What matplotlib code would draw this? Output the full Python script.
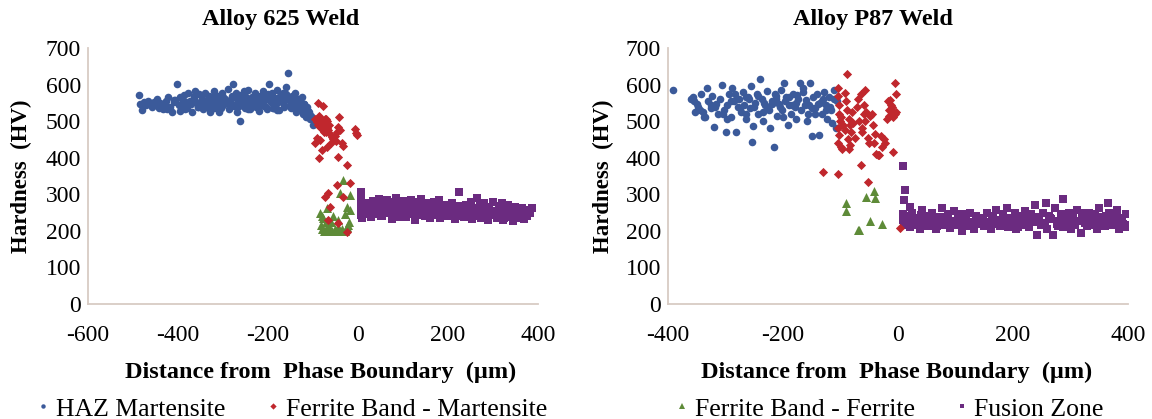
import matplotlib
matplotlib.use("Agg")
import matplotlib.pyplot as plt
from matplotlib.lines import Line2D

plt.rcParams['font.family'] = ['Liberation Serif', 'DejaVu Serif']
plt.rcParams['axes.unicode_minus'] = False

# ---------------- data ----------------
titles = ["Alloy 625 Weld", "Alloy P87 Weld"]
series_names = ["HAZ Martensite", "Ferrite Band - Martensite", "Ferrite Band - Ferrite", "Fusion Zone"]
xlims = [(-600, 400), (-400, 400)]
xticks_left = [-600, -400, -200, 0, 200, 400]
xticks_right = [-400, -200, 0, 200, 400]
yticks = [0, 100, 200, 300, 400, 500, 600, 700]

# Alloy 625 weld
haz625_x = [-487,-484,-480,-476,-471,-466,-462,-458,-454,-450,-446,-442,-438,-434,-430,-426,-422,-418,-414,-410,
            -406,-402,-398,-395,-392,-389,-386,-383,-380,-377,-374,-371,-368,-365,-362,-359,-356,-353,-350,-347,
            -344,-341,-338,-335,-332,-329,-326,-323,-320,-317,-314,-311,-308,-305,-302,-299,-296,-293,-290,-287,
            -284,-281,-278,-275,-272,-269,-266,-263,-260,-257,-254,-251,-248,-245,-242,-239,-236,-233,-230,-227,
            -224,-221,-218,-215,-212,-209,-206,-203,-200,-197,-194,-191,-188,-185,-182,-179,-176,-173,-170,-167,
            -164,-161,-158,-155,-152,-149,-146,-143,-140,-137,-134,-131,-128,-125,-122,-119,-116,-113,-110,-107,
            -104,-101,
            -440,-425,-410,-395,-385,-375,-365,-355,-345,-335,-325,-315,-305,-295,-285,-275,-265,-255,-245,-235,
            -225,-215,-205,-195,-185,-175,-165,-155,-145,-135,-125,-118,-112,-108,-130,-150,-170,-190,-210,-230,
            -250,-270,-290,-310,-330,-350,-370,-390,-140,-120,-160,-180,-200,-220,-240,-260,-280,-300,-320,-340]
haz625_y = [571,548,530,553,545,555,550,538,552,545,560,536,548,532,544,556,565,540,526,552,
            558,601,545,528,560,548,572,552,535,578,556,546,524,562,582,552,538,574,548,560,
            532,578,552,540,568,526,558,548,582,552,536,568,524,555,576,545,560,550,588,534,
            552,568,601,542,576,526,555,500,564,548,582,536,556,586,550,532,567,548,578,540,
            558,528,570,552,582,542,562,534,574,601,552,578,536,564,548,584,530,568,552,576,
            540,592,560,632,555,536,570,550,578,524,560,545,530,565,520,548,510,540,525,505,
            515,489,
            549,534,558,566,532,548,570,538,557,550,567,540,535,558,544,565,542,554,533,564,
            548,557,540,569,550,556,544,566,550,542,540,532,528,520,556,545,566,536,556,544,
            565,538,556,544,564,540,553,548,552,548,574,531,560,542,552,572,548,566,536,556]

fbm625_x = [-88,-77,-42,-95,-92,-90,-87,-85,-83,-80,-78,-76,-74,-72,-70,-68,-66,-64,-62,-86,
            -82,-79,-75,-71,-45,-40,-47,-58,-52,-55,-50,-36,-33,-7,-5,-3,-92,-96,-84,-86,
            -44,-25,-47,-18,-66,-73,-62,-66,-44,-25,-34,-60,-70,-80]
fbm625_y = [550,541,512,505,498,490,510,485,500,478,495,488,505,470,482,500,476,490,465,515,
            492,482,470,505,485,475,471,458,460,450,445,440,432,478,468,462,453,439,448,398,
            401,380,325,330,303,293,266,230,222,198,293,440,430,420]

fbf625_x = [-84,-80,-77,-72,-70,-66,-62,-80,-75,-70,-65,-58,-52,-48,-44,-40,-35,-30,-25,-20,
            -22,-25,-18,-18,-40,-34,-55,-60,-83,-28,-45]
fbf625_y = [248,240,234,225,262,215,205,205,200,200,200,200,205,200,210,200,205,200,210,225,
            215,266,257,298,303,339,240,225,215,245,230]

fz625_x = [6,6,6,6,6,6,8,
           12,15,19,22,26,29,33,36,40,43,47,50,54,57,61,64,68,71,75,78,82,85,89,92,
           96,99,103,106,110,113,117,120,124,127,131,134,138,141,145,148,152,155,159,162,
           166,169,173,176,180,183,187,190,194,197,201,204,208,211,215,218,222,225,229,232,
           236,239,243,246,250,253,257,260,264,267,271,274,278,281,285,288,292,295,299,302,
           306,309,313,316,320,323,327,330,334,337,341,344,348,351,355,358,362,365,369,372,
           376,379,383,386,
           14,24,34,44,52,60,70,80,90,100,108,116,126,136,146,156,164,174,184,194,
           204,214,224,234,244,254,264,274,284,294,304,314,324,334,344,354,364,374,225,265]
fz625_y = [305,292,280,268,255,243,235,
           262,245,275,250,268,238,282,255,270,245,288,260,240,275,255,285,248,268,232,280,258,290,245,265,
           272,250,282,238,265,255,285,245,270,230,262,278,248,288,255,240,275,258,235,268,
           250,280,242,265,285,235,258,272,248,262,262,240,275,255,232,268,250,305,245,260,
           238,272,255,245,280,232,262,250,290,240,268,235,258,275,245,230,265,250,278,242,
           255,235,268,248,275,230,260,245,270,238,252,228,265,242,258,235,250,262,232,248,
           240,258,248,262,
           252,268,245,260,240,275,250,262,238,270,255,248,265,242,258,270,245,252,262,240,
           255,248,268,240,258,245,262,238,255,248,242,260,235,250,245,238,252,242,250,255]

# Alloy P87 weld
hazp87_x = [-392,-360,-356,-353,-350,-347,-343,-340,-336,-333,-330,-326,-323,-320,-316,-313,-310,-306,-303,-300,
            -297,-294,-291,-288,-285,-282,-279,-276,-273,-270,-267,-264,-261,-258,-255,-252,-249,-246,-243,-240,
            -237,-234,-231,-228,-225,-222,-219,-216,-213,-210,-207,-204,-201,-198,-195,-192,-189,-186,-183,-180,
            -177,-174,-171,-168,-165,-162,-159,-156,-153,-150,-147,-144,-141,-138,-135,-132,-129,-126,-123,-120,
            -117,-114,-111,-108,-106,
            -345,-325,-305,-290,-275,-260,-250,-244,-235,-220,-212,-205,-196,-185,-175,-160,-150,-140,-130,-118,
            -355,-338,-318,-298,-283,-265,-254,-233,-226,-214,-200,-190,-178,-166,-155,-145,-133,-125,-112,-265]
hazp87_y = [585,560,567,526,548,540,575,526,512,590,555,535,570,485,548,520,560,600,530,470,
            545,575,510,590,555,471,540,560,525,580,545,505,565,535,595,488,550,575,520,614,
            560,500,544,583,530,480,555,428,570,515,548,585,530,603,565,490,545,520,575,540,
            505,560,605,530,580,545,500,520,603,459,565,535,575,462,550,520,580,545,505,565,
            530,495,585,480,555,
            530,545,520,555,535,560,540,570,525,548,560,538,555,545,572,558,535,548,560,540,
            555,510,540,505,575,520,444,550,535,575,510,565,550,590,545,520,555,530,560,565]

fbmp87_x = [-89,-5,-3,-14,-10,-6,-8,-12,-105,-104,-102,-103,-101,-105,-103,-104,-100,-92,-90,-88,
            -85,-84,-82,-87,-80,-83,-86,-70,-65,-60,-55,-58,-62,-52,-50,-57,-63,-48,-45,-40,
            -42,-22,-18,-15,-20,-16,-35,-33,-9,-131,-105,-65,-52,4,-100,-95,-93,-72,-68,-44,
            -30,-25,-12,-4,-75,-78,-97,-60,-38,-28]
fbmp87_y = [629,603,574,558,540,520,510,530,590,570,545,520,500,480,462,440,430,578,555,530,
            505,490,470,450,525,435,425,560,575,545,525,500,480,455,440,585,470,515,520,465,
            440,440,555,530,505,515,407,407,416,362,355,380,334,208,510,490,475,540,500,490,
            460,450,545,525,455,495,425,520,410,430]

fbfp87_x = [-91,-91,-55,-41,-40,-70,-67,-48,-27]
fbfp87_y = [277,253,293,310,289,203,203,227,218]

fzp87_x = [8,12,10,21,8,8,10,
           14,17,21,24,28,31,35,38,42,45,49,52,56,59,63,66,70,73,77,80,
           84,87,91,94,98,101,105,108,112,115,119,122,126,129,133,136,140,143,147,150,
           154,157,161,164,168,171,175,178,182,185,189,192,196,199,203,206,210,213,217,220,
           224,227,231,234,238,241,245,248,252,255,259,262,266,269,273,276,280,283,287,290,
           294,297,301,304,308,311,315,318,322,325,329,332,336,339,343,346,350,353,357,360,
           364,367,371,374,378,381,385,388,392,396,398,
           18,30,40,55,68,82,95,110,124,138,152,166,180,194,208,222,236,250,264,278,
           292,306,320,334,348,362,376,390,395,257,287,365]
fzp87_y = [378,313,284,266,245,230,215,
           240,225,210,248,230,215,235,205,258,222,240,212,230,250,218,205,238,225,262,215,
           232,245,208,228,255,215,238,222,200,245,230,212,250,225,205,240,218,235,228,212,
           248,225,205,238,220,258,230,212,245,225,262,210,235,220,250,205,240,228,215,255,
           230,210,245,225,271,190,238,215,250,222,205,240,232,190,262,218,228,245,210,236,
           222,248,205,235,215,258,228,195,240,222,212,250,230,215,245,205,262,225,238,212,
           230,248,215,240,225,258,205,235,220,245,215,
           230,218,242,225,212,238,222,245,215,232,225,240,218,230,210,242,228,220,235,212,
           238,225,248,215,232,240,222,235,210,277,286,275]

# ---------------- style ----------------
C_BLUE = '#3b5a9a'
C_RED = '#c0272d'
C_GREEN = '#5e8b38'
C_PURPLE = '#6b2b80'
SPINE = '#d8cbc4'

W, H = 1152, 419
fig = plt.figure(figsize=(W / 100, H / 100), dpi=100)

def px_box(x0, x1, ytop, ybot):
    return [x0 / W, 1 - ybot / H, (x1 - x0) / W, (ybot - ytop) / H]

ax1 = fig.add_axes(px_box(88, 538, 48, 304))
ax2 = fig.add_axes(px_box(668, 1128, 48, 304))

panels = [
    (ax1, (haz625_x, haz625_y), (fbm625_x, fbm625_y), (fbf625_x, fbf625_y), (fz625_x, fz625_y), xticks_left, xlims[0]),
    (ax2, (hazp87_x, hazp87_y), (fbmp87_x, fbmp87_y), (fbfp87_x, fbfp87_y), (fzp87_x, fzp87_y), xticks_right, xlims[1]),
]

for ax, haz, fbm, fbf, fz, xt, xl in panels:
    ax.scatter(*haz, s=30, marker='o', color=C_BLUE, linewidths=0, zorder=2)
    ax.scatter(*fbf, s=42, marker='^', color=C_GREEN, linewidths=0, zorder=3)
    ax.scatter(*fz, s=30, marker='s', color=C_PURPLE, linewidths=0, zorder=3)
    ax.scatter(*fbm, s=22, marker='D', color=C_RED, linewidths=0, zorder=4)
    ax.set_xlim(*xl)
    ax.set_ylim(0, 700)
    ax.set_xticks(xt)
    ax.set_yticks(yticks)
    for s in ['top', 'right']:
        ax.spines[s].set_visible(False)
    for s in ['left', 'bottom']:
        ax.spines[s].set_color(SPINE)
        ax.spines[s].set_linewidth(1.3)
    ax.tick_params(axis='both', length=0, labelsize=17)
    ax.tick_params(axis='y', pad=5)
    ax.tick_params(axis='x', pad=15)
    ax.set_facecolor('none')

# titles
fig.text(281 / W, 1 - 20 / H, titles[0], ha='center', va='center', fontsize=17.5, fontweight='bold')
fig.text(873 / W, 1 - 20 / H, titles[1], ha='center', va='center', fontsize=17.5, fontweight='bold')

# axis labels
xlab = "Distance from  Phase Boundary  (\u00b5m)"
fig.text(321 / W, 1 - 372 / H, xlab, ha='center', va='center', fontsize=17.5, fontweight='bold')
fig.text(897 / W, 1 - 372 / H, xlab, ha='center', va='center', fontsize=17.5, fontweight='bold')
ylab = "Hardness  (HV)"
fig.text(21 / W, 1 - 176 / H, ylab, ha='center', va='center', rotation=90, fontsize=16.5, fontweight='bold')
fig.text(603 / W, 1 - 176 / H, ylab, ha='center', va='center', rotation=90, fontsize=16.5, fontweight='bold')

# legend (manual, along the bottom edge)
leg_markers = [('o', C_BLUE, 3.2), ('D', C_RED, 3.2), ('^', C_GREEN, 4.5), ('s', C_PURPLE, 3.3)]
leg_marker_x = [43, 273, 682, 962]
leg_text_x = [56, 286, 695, 974]
for (m, c, ms), mx, tx, lab in zip(leg_markers, leg_marker_x, leg_text_x, series_names):
    fig.add_artist(Line2D([mx / W], [1 - 406 / H], transform=fig.transFigure, marker=m,
                          markersize=ms, color=c, linestyle='none', markeredgewidth=0))
    fig.text(tx / W, 1 - 416 / H, lab, ha='left', va='baseline', fontsize=18.5)

fig.savefig('out.png', dpi=100)
